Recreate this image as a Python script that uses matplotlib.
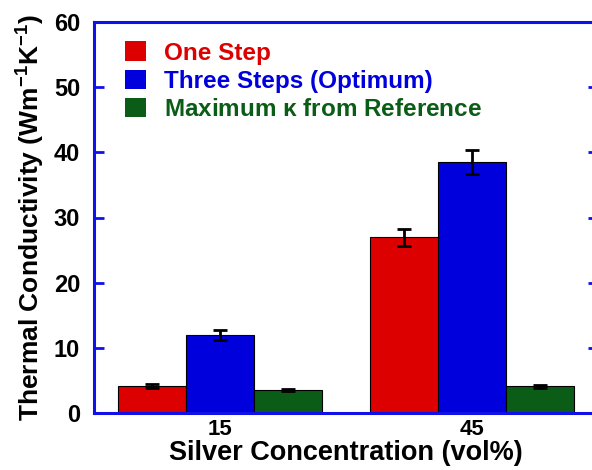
# Thermal conductivity of silver composites, bar chart with error bars

import numpy as np
import matplotlib
matplotlib.use('Agg')
import matplotlib.pyplot as plt
from matplotlib.patches import Patch

# data
concentrations = ['15', '45']
one_step = [4.1, 27.0]
one_step_err = [0.3, 1.3]
three_steps = [12.0, 38.5]
three_steps_err = [0.75, 1.8]
max_ref = [3.5, 4.1]
max_ref_err = [0.2, 0.2]
series_names = ['One Step', 'Three Steps (Optimum)', r'Maximum $\kappa$ from Reference']

red = '#dd0000'
blue = '#0000dd'
green = '#0b5c16'
axis_blue = '#1010e8'

plt.rcParams['font.family'] = ['Liberation Sans', 'DejaVu Sans']
plt.rcParams['font.weight'] = 'bold'
plt.rcParams['mathtext.fontset'] = 'custom'
plt.rcParams['mathtext.rm'] = 'Liberation Sans:bold'
plt.rcParams['mathtext.it'] = 'Liberation Sans:bold'
plt.rcParams['mathtext.bf'] = 'Liberation Sans:bold'

fig = plt.figure(figsize=(5.92, 4.70), dpi=100)
ax = fig.add_axes([94 / 592, 57 / 470, 504 / 592, 391 / 470])

x = np.arange(len(concentrations))
w = 0.269
err_kw = dict(ecolor='black', elinewidth=2, capsize=5, capthick=2)
ax.bar(x - w, one_step, w, yerr=one_step_err, color=red, edgecolor='black', linewidth=0.8, error_kw=err_kw)
ax.bar(x, three_steps, w, yerr=three_steps_err, color=blue, edgecolor='black', linewidth=0.8, error_kw=err_kw)
ax.bar(x + w, max_ref, w, yerr=max_ref_err, color=green, edgecolor='black', linewidth=0.8, error_kw=err_kw)

ax.set_xlim(-0.5, 1.5)
ax.set_ylim(0, 60)
ax.set_yticks(range(0, 61, 10))
ax.set_xticks(x)
ax.set_xticklabels(concentrations)
ax.tick_params(axis='y', direction='in', length=7, width=2, color=axis_blue,
               left=True, right=True, labelsize=17, pad=10)
ax.tick_params(axis='x', length=0, labelsize=16, pad=4)
for s in ax.spines.values():
    s.set_color(axis_blue)
    s.set_linewidth(2.2)

ax.set_xlabel('Silver Concentration (vol%)', fontsize=19.5, fontweight='bold', labelpad=0)
ax.set_ylabel(r'Thermal Conductivity (Wm$^{-1}$K$^{-1}$)', fontsize=19, fontweight='bold', labelpad=5)

handles = [Patch(facecolor=c, edgecolor='none') for c in (red, blue, green)]
ax.legend(handles, series_names, loc='upper left', bbox_to_anchor=(0.042, 0.975),
          borderaxespad=0, frameon=False, fontsize=17.5, handlelength=0.86, handleheight=0.86,
          handletextpad=0.75, labelspacing=0.2, labelcolor=[red, blue, green])

plt.savefig('out.png', dpi=100)
